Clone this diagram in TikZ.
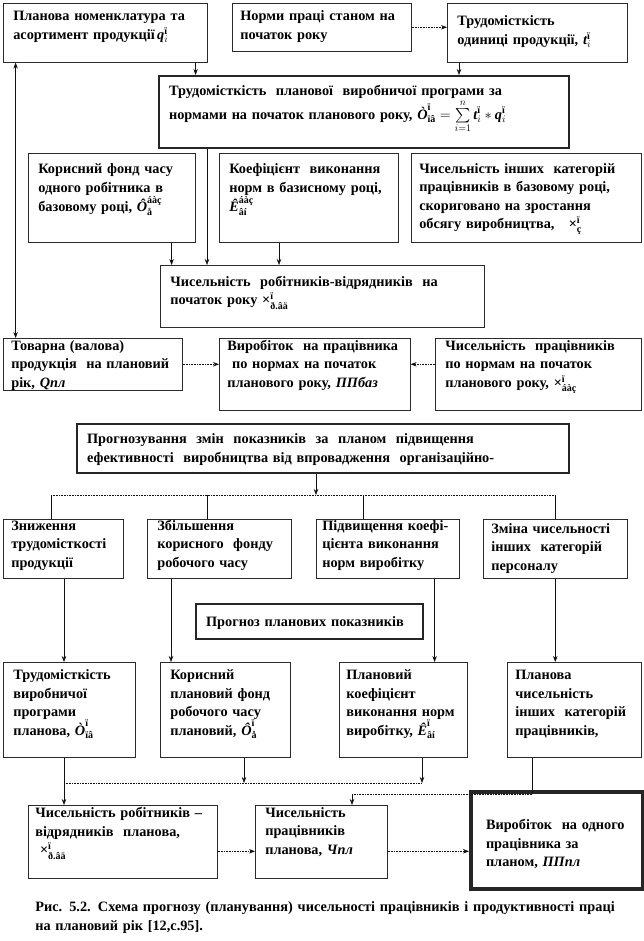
\documentclass[tikz,border=0pt]{standalone}
\usepackage{amsmath}
\usepackage{fontspec}
\setmainfont{Liberation Serif}
\usepackage{tikz}
\usetikzlibrary{arrows.meta, calc}
\definecolor{clinia}{HTML}{111111}
\definecolor{cramka}{HTML}{2b2b2b}
\newcommand{\bukva}[1]{\text{\itshape #1}}
\tikzset{
  blok/.style={rectangle, draw=cramka, line width=0.6pt, anchor=north west, align=left,
               inner xsep=10pt, inner ysep=4pt, font=\bfseries\fontsize{14.3}{18.5}\selectfont},
  tovsta/.style={blok, line width=2.2pt, draw=black!85},
  strilka/.style={-{Stealth[length=6pt, width=4.5pt]}, line width=0.6pt, draw=clinia},
  dvi/.style={strilka, {Stealth[length=6pt, width=4.5pt]}-{Stealth[length=6pt, width=4.5pt]}},
  punktyr/.style={strilka, densely dotted},
  liniya/.style={line width=0.6pt, draw=clinia},
}

\begin{document}
\begin{tikzpicture}[x=1pt, y=-1pt]
    \useasboundingbox (0,0) rectangle (643,941);

    % верхній ряд
    \node[blok, text width=184pt, text height=13.5pt, text depth=37.5pt] (nomen) at (3,3)
        {Планова номенклатура та\\асортимент продукції\,$\bukva{q}_{i}^{\text{ï}}$};
    \node[blok, inner xsep=8pt, text width=163pt, text height=13.5pt, text depth=26.5pt] (normy) at (232,3)
        {Норми праці станом на\\початок року};
    \node[blok, text width=160pt, text height=18.5pt, text depth=32.5pt] (trud) at (447,3)
        {Трудомісткість\\одиниці продукції, $\bukva{t}_{i}^{\text{ï}}$};
    \node[tovsta, text width=390pt, text height=15.5pt, text depth=48.5pt] (tpv) at (158,75)
        {Трудомісткість\ \ планової\ \ виробничої програми за\\нормами на початок планового року,\ $\bukva{Ò}_{\text{ïâ}}^{\text{ï}} = \sum\limits_{i=1}^{n} \bukva{t}_{i}^{\text{ï}} * \bukva{q}_{i}^{\text{ï}}$};

    % базовий рік
    \node[blok, text width=147pt, text height=16.5pt, text depth=64.5pt] (fond) at (28,153)
        {Корисний фонд часу\\одного робітника в\\базовому році, $\bukva{Ô}_{\text{å}}^{\text{áàç}}$};
    \node[blok, text width=159pt, text height=16.5pt, text depth=64.5pt] (koef) at (219,153)
        {Коефіцієнт\ \ виконання\\норм в базисному році,\\$\bukva{Ê}_{\text{âí}}^{\text{áàç}}$};
    \node[blok, inner xsep=8pt, text width=214pt, text height=16pt, text depth=65pt] (inshi) at (411,153)
        {Чисельність інших\ \ категорій\\працівників в базовому році,\\скориговано на зростання\\обсягу виробництва,\ \ \ $\text{×}_{\text{ç}}^{\text{ï}}$};
    \node[blok, text width=304pt, text height=17pt, text depth=37pt] (chrv) at (160,265)
        {Чисельність\ \ робітників-відрядників\ \ на\\початок року\ $\text{×}_{\text{ð.âä}}^{\text{ï}}$};

    \node[blok, inner xsep=8pt, text width=163pt, text height=8pt, text depth=36pt] (tovar) at (3,338)
        {Товарна (валова)\\продукція\ \ на плановий\\рік, \textit{Qпл}};
    \node[blok, inner xsep=8pt, text width=175pt, text height=8pt, text depth=56pt] (vyrb) at (219,338)
        {Виробіток\ \ на працівника\\\ по нормах на початок\\планового року, \textit{ППбаз}};
    \node[blok, text width=186pt, text height=8pt, text depth=56pt] (chbaz) at (435,338)
        {Чисельність\ \ працівників\\по нормам на початок\\планового року, $\text{×}_{\text{áàç}}^{\text{ï}}$};

    % прогнозування
    \node[tovsta, text width=472pt, text height=15.5pt, text depth=25.5pt] (prog) at (76,423)
        {Прогнозування\ \ змін\ \ показників\ \ за\ \ планом\ \ підвищення\\ефективності\ \ виробництва від впровадження\ \ організаційно-};

    \node[blok, inner xsep=8pt, text width=104pt, text height=7pt, text depth=44pt] (znyzh) at (3,519)
        {Зниження\\трудомісткості\\продукції};
    \node[blok, text width=124pt, text height=7pt, text depth=44pt] (zbil) at (147,519)
        {Збільшення\\корисного\ \ фонду\\робочого часу};
    \node[blok, inner xsep=6pt, text width=131pt, text height=7pt, text depth=44pt] (pidv) at (316,519)
        {Підвищення коефі-\\цієнта виконання\\норм виробітку};
    \node[blok, inner xsep=8pt, text width=128pt, text height=10pt, text depth=41pt] (zmina) at (483,519)
        {Зміна чисельності\\інших\ \ категорій\\персоналу};

    \node[tovsta, text width=207pt, text height=18pt, text depth=9pt] (progn) at (195,603)
        {Прогноз планових показників};

    % планові показники
    \node[blok, text width=112pt, text height=13.5pt, text depth=73.5pt] (trpl) at (3,662)
        {Трудомісткість\\виробничої\\програми\\планова, $\bukva{Ò}_{\text{ïâ}}^{\text{ï}}$};
    \node[blok, text width=110pt, text height=13.5pt, text depth=73.5pt] (fondpl) at (160,662)
        {Корисний\\плановий фонд\\робочого часу\\плановий, $\bukva{Ô}_{\text{å}}^{\text{ï}}$};
    \node[blok, inner xsep=7pt, text width=114pt, text height=13.5pt, text depth=73.5pt] (koefpl) at (339,662)
        {Плановий\\коефіцієнт\\виконання норм\\виробітку, $\bukva{Ê}_{\text{âí}}^{\text{ï}}$};
    \node[blok, inner xsep=8pt, text width=118pt, text height=13.5pt, text depth=73.5pt] (inshipl) at (507,662)
        {Планова\\чисельність\\інших\ \ категорій\\працівників,};

    \node[blok, inner xsep=7pt, text width=175pt, text height=8.5pt, text depth=56.5pt] (chrvpl) at (28,805)
        {Чисельність робітників --\\відрядників\ \ планова,\\\ $\text{×}_{\text{ð.âä}}^{\text{ï}}$};
    \node[blok, text width=112pt, text height=8pt, text depth=57pt] (chpl) at (255,805)
        {Чисельність\\працівників\\планова, \textit{Чпл}};
    \node[blok, line width=4pt, draw=black!85, inner xsep=15pt, text width=142pt, text height=33.5pt, text depth=55.5pt] (vyrpl) at (469,790)
        {Виробіток\ \ на одного\\працівника за\\планом, \textit{ППпл}};

    \node[blok, draw=none, inner sep=0pt, anchor=base west, text width=600pt] (pidpys) at (35,911.5)
        {Рис. 5.2. Схема прогнозу (планування) чисельності працівників і продуктивності праці\\на плановий рік [12,с.95].};

    % зв'язки
    \coordinate (rozg) at (316,495);
    \coordinate (r1) at (51,495);
    \coordinate (r2) at (207,495);
    \coordinate (r3) at (363,495);
    \coordinate (r4) at (555,495);
    \coordinate (zb) at (64,783);
    \coordinate (zb2) at (422,783);
    \coordinate (ob1) at (532,794);
    \coordinate (ob2) at (352,794);

    \draw[punktyr] (normy.east) -- (normy.east -| trud.west);
    \draw[strilka] ([xshift=-12pt]nomen.south east) -- ([xshift=-12pt]nomen.south east |- tpv.north);
    \draw[strilka] ([xshift=12pt]trud.south west) -- ([xshift=12pt]trud.south west |- tpv.north);
    \draw[dvi] ([xshift=12.6pt]nomen.south west) -- ([xshift=12.6pt]nomen.south west |- tovar.north);
    \draw[strilka] ([xshift=49pt]tpv.south west) -- ([xshift=49pt]tpv.south west |- chrv.north);
    \draw[strilka] ([xshift=-24pt]fond.south east) -- ([xshift=-24pt]fond.south east |- chrv.north);
    \draw[strilka] ([xshift=60pt]koef.south west) -- ([xshift=60pt]koef.south west |- chrv.north);
    \draw[punktyr] (tovar.east) -- (tovar.east -| vyrb.west);
    \draw[punktyr] (chbaz.west |- tovar.east) -- (vyrb.east |- tovar.east);

    \draw[strilka] (prog.south -| rozg) -- (rozg);
    \draw[liniya, densely dotted] (r1) -- (r4);
    \draw[liniya] (r1) -- (r1 |- znyzh.north);
    \draw[liniya] (r2) -- (r2 |- zbil.north);
    \draw[liniya] (r3) -- (r3 |- pidv.north);
    \draw[liniya] (r4) -- (r4 |- zmina.north);

    \draw[strilka] (znyzh.south -| zb) -- (zb |- trpl.north);
    \draw[strilka] ([xshift=24pt]zbil.south west) -- ([xshift=24pt]zbil.south west |- fondpl.north);
    \draw[strilka] ([xshift=-25pt]pidv.south east) -- ([xshift=-25pt]pidv.south east |- koefpl.north);
    \draw[strilka] (zmina.south) -- (zmina.south |- inshipl.north);

    \draw[strilka] (trpl.south -| zb) -- (zb |- chrvpl.north);
    \draw[liniya, densely dotted] (zb) -- (zb2);
    \draw[strilka] ([xshift=84pt]fondpl.south west) -- ([xshift=84pt]fondpl.south west |- zb);
    \draw[strilka] (koefpl.south -| zb2) -- (zb2);
    \draw[liniya] (inshipl.south -| ob1) -- (ob1);
    \draw[liniya, densely dotted] (ob1) -- (ob2);
    \draw[strilka] (ob2) -- (ob2 |- chpl.north);

    \draw[punktyr] ([yshift=-9.5pt]chrvpl.east) -- ([yshift=-9.5pt]chrvpl.east -| chpl.west);
    \draw[punktyr] ([yshift=-9.5pt]chpl.east) -- ([yshift=-9.5pt]chpl.east -| vyrpl.west);
\end{tikzpicture}
\end{document}
